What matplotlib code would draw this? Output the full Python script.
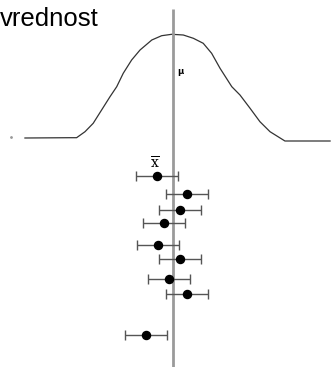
import matplotlib
matplotlib.use("Agg")
import matplotlib.pyplot as plt

S = 21.0  # chart pixels per sigma unit (used only to set the limits)
MU_PX = 173.0

# x in sigma units relative to the true value mu (=0); y in vertical chart rows
curve_x = [-7.05, -4.90, -4.59, -4.19, -3.80, -3.40, -3.00, -2.68, -2.37,
           -1.97, -1.57, -1.01, -0.54, -0.06, 0.49, 0.97, 1.44, 1.84, 2.24,
           2.80, 3.19, 3.67, 4.14, 4.62, 5.33, 7.48]
curve_y = [138, 137.7, 137.7, 131.7, 123.3, 110, 96.7, 86.7, 73.3,
           60, 50, 40, 35.7, 34.3, 35, 38.3, 43.3, 53.3, 68.3,
           86.7, 95, 108.3, 121.7, 131.7, 141, 141]

sample_means = [-0.75, 0.68, 0.33, -0.41, -0.71, 0.33, -0.20, 0.68, -1.30]
sample_rows = [176, 194, 210, 223.3, 245, 259, 279, 294.3, 334.7]
sample_err = [1.0] * 9

title_text = "vrednost"
mu_label = "μ"
xbar_label = r"$\overline{\mathrm{x}}$"

fig = plt.figure(figsize=(3.31, 3.67), dpi=100)
ax = fig.add_axes([0, 0, 1, 1])
ax.set_xlim(-MU_PX / S, (331 - MU_PX) / S)
ax.set_ylim(367, 0)
ax.axis("off")

ax.plot(curve_x, curve_y, color="#333333", lw=0.9)
ax.plot([-7.7], [137], marker="o", ms=1, color="#999999")
ax.plot([0, 0], [9, 367], color="#9a9a9a", lw=2, solid_capstyle="butt")

ax.errorbar(sample_means, sample_rows, xerr=sample_err, fmt="o", color="black",
            ms=5.8, ecolor="#555555", elinewidth=1, capsize=3.5, capthick=1)

ax.text(0.22, 71, mu_label, fontsize=6, fontweight="bold", ha="left", va="center",
        color="black")
ax.text(-0.86, 163, xbar_label, fontsize=10, ha="center", va="center",
        family="serif", math_fontfamily="dejavuserif")
fig.text(0.0, 1 - 25.5 / 367, title_text, fontsize=18.5, ha="left", va="baseline",
         family="Liberation Sans")

fig.savefig("out.png", dpi=100)
